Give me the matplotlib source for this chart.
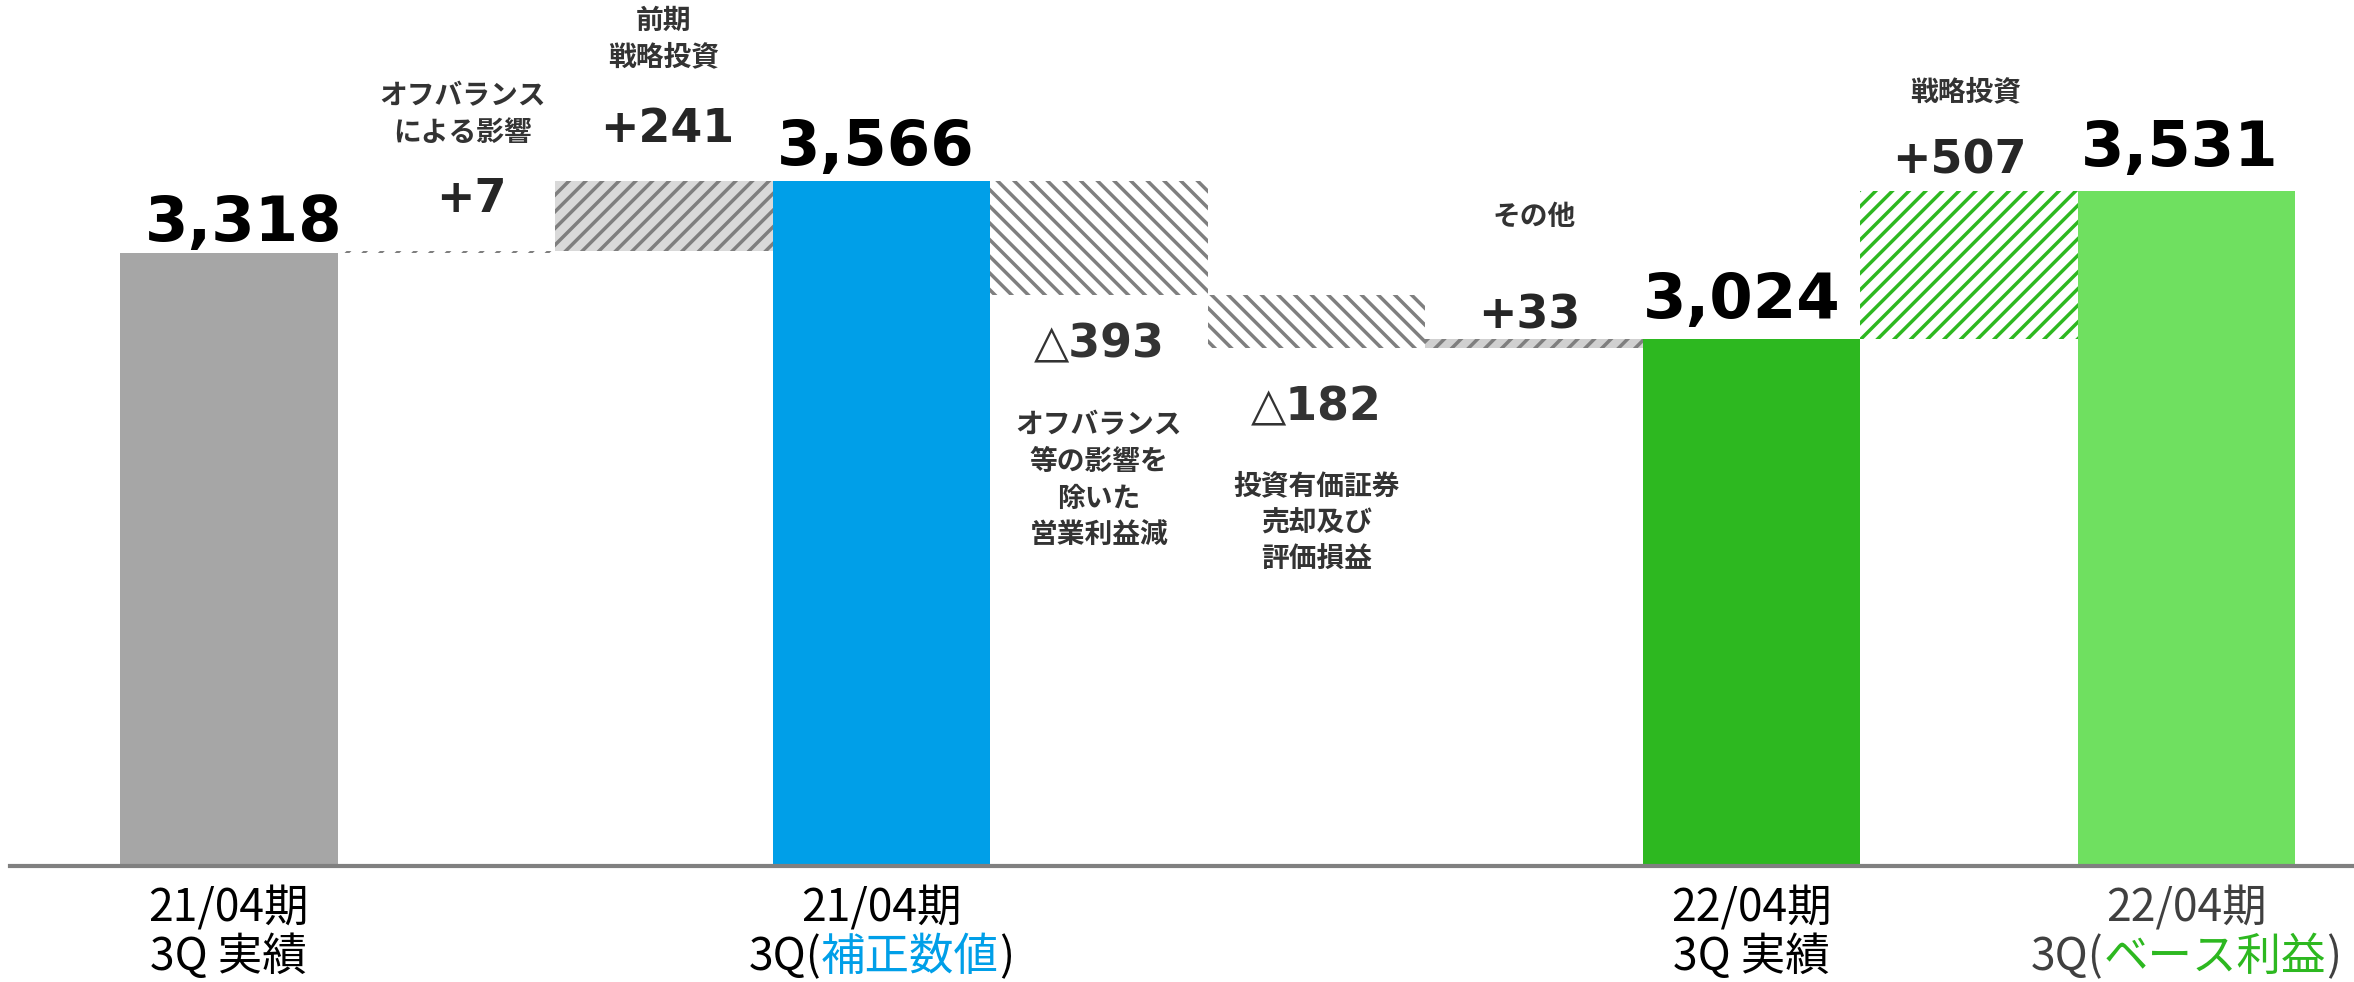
import matplotlib
matplotlib.use("Agg")
import matplotlib.pyplot as plt
from matplotlib.offsetbox import TextArea, HPacker, AnnotationBbox

plt.rcParams['font.family'] = ['DejaVu Sans', 'Noto Sans CJK JP']
plt.rcParams['hatch.linewidth'] = 2.5

# waterfall data (bar order left -> right)
kinds = ['total', 'delta', 'delta', 'total', 'delta', 'delta', 'delta', 'total', 'delta', 'total']
amounts = [3318, 7, 241, 3566, -393, -182, 33, 3024, 507, 3531]
notes = ['', 'オフバランス\nによる影響', '前期\n戦略投資', '',
         'オフバランス\n等の影響を\n除いた\n営業利益減', '投資有価証券\n売却及び\n評価損益',
         'その他', '', '戦略投資', '']

# x axis labels for the total bars
label_bars = [0, 3, 7, 9]
period_labels = ['21/04期', '21/04期', '22/04期', '22/04期']
sub_labels = [('3Q 実績', '', ''), ('3Q(', '補正数値', ')'),
              ('3Q 実績', '', ''), ('3Q(', 'ベース利益', ')')]

# styles
face_colors = ['#a6a6a6', 'white', '#d9d9d9', '#009fe8', 'white', 'white', '#d0d0d0',
               '#2db820', 'white', '#6fe060']
hatch_colors = ['none', '#7f7f7f', '#7f7f7f', 'none', '#7f7f7f', '#7f7f7f', '#7f7f7f',
                'none', '#2db820', 'none']
hatches = [None, '//', '//', None, '\\\\', '\\\\', '//', None, '//', None]
highlight_colors = ['black', '#009fe8', 'black', '#2db820']
label_text_colors = ['black', 'black', 'black', '#404040']
# label offsets in pixels
value_dy = [12, 39, 39, 16, -27, -37, 10, 21, 18, 25]
value_dx = [15, 25, 3, -6, 0, 0, -5, -10, -9, -7]
note_dy = [0, 104, 110, 0, -116, -124, 108, 0, 85, 0]
note_dx = [0, 16, 0, 0, 0, 0, 0, 0, -3, 0]

# build waterfall geometry
bottoms, heights = [], []
level = 0
for k, a in zip(kinds, amounts):
    if k == 'total':
        bottoms.append(0)
        heights.append(a)
        level = a
    else:
        bottoms.append(min(level, level + a))
        heights.append(abs(a))
        level += a

fig = plt.figure(figsize=(23.54, 9.82), dpi=100)
ax = fig.add_axes([10 / 2354, 116 / 982, 1 - 10 / 2354, 866 / 982])
xs = list(range(len(amounts)))

for i in xs:
    ax.bar(i, heights[i], bottom=bottoms[i], width=1.0, color=face_colors[i],
           edgecolor=hatch_colors[i], linewidth=0, hatch=hatches[i])

ax.set_xlim(-1.006, 9.771)
ax.set_ylim(1209, 4190)
for s in ['top', 'left', 'right']:
    ax.spines[s].set_visible(False)
ax.spines['bottom'].set_color('#808080')
ax.spines['bottom'].set_linewidth(3)
ax.set_xticks([])
ax.set_yticks([])

# value labels
for i in xs:
    a = amounts[i]
    top = bottoms[i] + heights[i]
    if kinds[i] == 'total':
        txt, size, col = f'{a:,}', 45, 'black'
    elif a > 0:
        txt, size, col = f'+{a}', 33, '#262626'
    else:
        txt, size, col = f'△{abs(a)}', 33, '#333333'
    if a < 0:
        ax.annotate(txt, (i, bottoms[i]), xytext=(value_dx[i], value_dy[i]),
                    textcoords='offset pixels', ha='center', va='top',
                    fontsize=size, fontweight='bold', color=col)
    else:
        ax.annotate(txt, (i, top), xytext=(value_dx[i], value_dy[i]),
                    textcoords='offset pixels', ha='center', va='baseline',
                    fontsize=size, fontweight='bold', color=col)

# note labels
for i in xs:
    if not notes[i]:
        continue
    if amounts[i] > 0:
        ax.annotate(notes[i], (i, bottoms[i] + heights[i]), xytext=(note_dx[i], note_dy[i]),
                    textcoords='offset pixels', ha='center', va='bottom',
                    fontsize=20, fontweight='bold', color='#333333',
                    family=['Noto Sans CJK JP'], linespacing=1.4)
    else:
        ax.annotate(notes[i], (i, bottoms[i]), xytext=(note_dx[i], note_dy[i]),
                    textcoords='offset pixels', ha='center', va='top',
                    fontsize=20, fontweight='bold', color='#333333',
                    family=['Noto Sans CJK JP'], linespacing=1.4)

# category labels under the axis
for j, i in enumerate(label_bars):
    base = label_text_colors[j]
    props = dict(fontsize=32, family=['Noto Sans CJK JP'], color=base)
    top_line = TextArea(period_labels[j], textprops=props)
    ab = AnnotationBbox(top_line, (i, 1209), xybox=(0, -42), boxcoords='offset pixels',
                        frameon=False, pad=0, box_alignment=(0.5, 0.5),
                        annotation_clip=False)
    ax.add_artist(ab)
    pre, hi, post = sub_labels[j]
    parts = [TextArea(pre, textprops=props)]
    if hi:
        parts.append(TextArea(hi, textprops=dict(props, color=highlight_colors[j])))
        parts.append(TextArea(post, textprops=props))
    line2 = HPacker(children=parts, sep=0, pad=0, align='baseline')
    ab2 = AnnotationBbox(line2, (i, 1209), xybox=(0, -91), boxcoords='offset pixels',
                         frameon=False, pad=0, box_alignment=(0.5, 0.5),
                         annotation_clip=False)
    ax.add_artist(ab2)

fig.savefig('out.png', dpi=100)
